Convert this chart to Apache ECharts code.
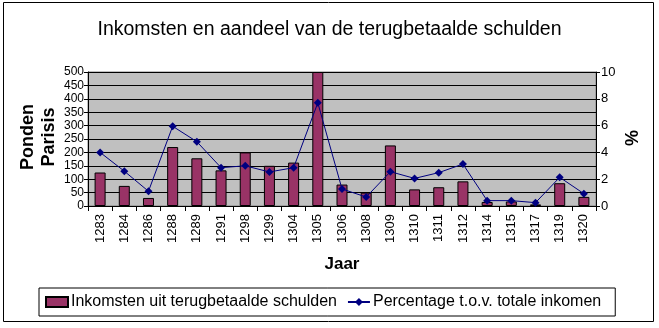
<!DOCTYPE html>
<html><head><meta charset="utf-8">
<script src="https://cdn.jsdelivr.net/npm/echarts@6/dist/echarts.min.js"></script>
<style>html,body{margin:0;padding:0;background:#fff}#c{width:659px;height:328px}</style>
</head><body><div id="c"></div>
<script>
var years = ['1283','1284','1286','1288','1289','1291','1298','1299','1304','1305','1306','1308','1309','1310','1311','1312','1314','1315','1317','1319','1320'];
var income = [125,75,30,220,178,133,200,150,162,500,80,50,226,62,70,92,15,17,6,85,34];
var percent = [4.0,2.6,1.1,5.95,4.8,2.86,3.0,2.54,2.86,7.7,1.27,0.67,2.56,2.06,2.49,3.13,0.4,0.4,0.25,2.14,0.92];
var leftTicks = {min:0,max:500,interval:50};
var rightTicks = {min:0,max:10,interval:2};

var F = "'Liberation Sans',Arial,sans-serif";
var chart = echarts.init(document.getElementById('c'));
chart.setOption({
  animation:false,
  title:{text:'Inkomsten en aandeel van de terugbetaalde schulden',left:'center',top:15,
    textStyle:{fontFamily:F,fontSize:19.5,fontWeight:'normal',color:'#000'}},
  graphic:[
    {type:'rect',shape:{x:3.5,y:2.5,width:650,height:319},style:{fill:'none',stroke:'#000',lineWidth:1},z:-1},
    {type:'text',x:39,y:137,rotation:Math.PI/2,style:{text:'Ponden\nParisis',font:"bold 18px 'Liberation Sans',Arial,sans-serif",fill:'#000',align:'center',verticalAlign:'middle',lineHeight:21}},
    {type:'text',x:633,y:138,rotation:Math.PI/2,style:{text:'%',font:"bold 18px 'Liberation Sans',Arial,sans-serif",fill:'#000',align:'center',verticalAlign:'middle'}},
  ],
  legend:{left:39,top:288,itemGap:10,itemWidth:22,itemHeight:10,padding:[6,14,6,6],
    borderColor:'#000',borderWidth:1,
    textStyle:{fontFamily:F,fontSize:16,color:'#000',padding:[0,0,0,-2]},
    data:[{name:'Inkomsten uit terugbetaalde schulden',icon:'rect'},{name:'Percentage t.o.v. totale inkomen'}]},
  grid:{left:88,right:63,top:72,bottom:122,show:true,backgroundColor:'#c0c0c0',borderColor:'#808080',borderWidth:1},
  xAxis:{type:'category',data:years,boundaryGap:true,
    name:'Jaar',nameLocation:'middle',nameGap:50,
    nameTextStyle:{fontFamily:F,fontSize:17,fontWeight:'bold',color:'#000'},
    axisLine:{lineStyle:{color:'#000',width:1}},
    axisTick:{show:true,inside:false,length:5,lineStyle:{color:'#000'},alignWithLabel:false},
    axisLabel:{rotate:90,interval:0,margin:8,fontFamily:F,fontSize:13,color:'#000'}},
  yAxis:[
    {type:'value',min:leftTicks.min,max:leftTicks.max,interval:leftTicks.interval,
      axisLine:{show:true,lineStyle:{color:'#000'}},axisTick:{show:true,length:4,lineStyle:{color:'#000'}},
      axisLabel:{fontFamily:F,fontSize:12,color:'#000',margin:4},
      splitLine:{show:true,lineStyle:{color:'#000',width:1}}},
    {type:'value',min:rightTicks.min,max:rightTicks.max,interval:rightTicks.interval,position:'right',
      axisLine:{show:true,lineStyle:{color:'#000'}},axisTick:{show:true,length:4,lineStyle:{color:'#000'}},
      axisLabel:{fontFamily:F,fontSize:13,color:'#000',margin:5},
      splitLine:{show:false}}
  ],
  series:[
    {name:'Inkomsten uit terugbetaalde schulden',type:'bar',data:income,yAxisIndex:0,barWidth:11,
      itemStyle:{color:'#993366',borderColor:'#000',borderWidth:1}},
    {name:'Percentage t.o.v. totale inkomen',type:'line',data:percent,yAxisIndex:1,
      symbol:'diamond',symbolSize:8,lineStyle:{color:'#000080',width:1},
      itemStyle:{color:'#000080'}}
  ]
});
</script></body></html>
